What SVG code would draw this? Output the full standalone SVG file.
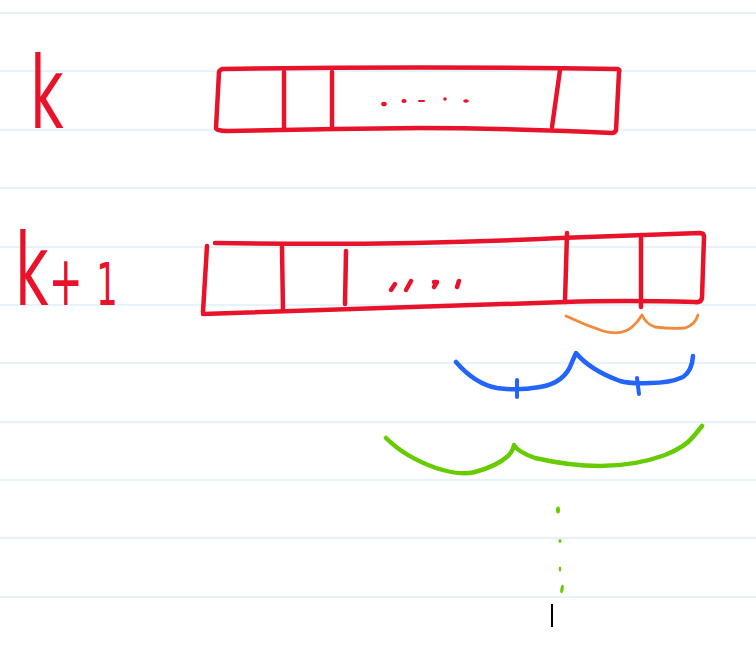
<svg xmlns="http://www.w3.org/2000/svg" width="756" height="645" viewBox="0 0 756 645">
<style>
.rule{stroke:#cde8f6;stroke-width:1.2}
.red{fill:none;stroke:#e8132b;stroke-width:4.5;stroke-linecap:round;stroke-linejoin:round}
.lbl{font-family:"DejaVu Sans",sans-serif;fill:#e8132b}
.br{fill:none;stroke-linecap:round;stroke-linejoin:round}
</style>
<rect width="756" height="645" fill="#ffffff"/>
<g id="rules">
<line class="rule" x1="0" y1="13" x2="756" y2="13"/>
<line class="rule" x1="0" y1="71" x2="756" y2="71"/>
<line class="rule" x1="0" y1="130" x2="756" y2="130"/>
<line class="rule" x1="0" y1="188" x2="756" y2="188"/>
<line class="rule" x1="0" y1="247" x2="756" y2="247"/>
<line class="rule" x1="0" y1="305" x2="756" y2="305"/>
<line class="rule" x1="0" y1="363" x2="756" y2="363"/>
<line class="rule" x1="0" y1="422" x2="756" y2="422"/>
<line class="rule" x1="0" y1="480" x2="756" y2="480"/>
<line class="rule" x1="0" y1="538" x2="756" y2="538"/>
<line class="rule" x1="0" y1="597" x2="756" y2="597"/>
</g>
<g id="label-k">
<text class="lbl" transform="translate(30,128) scale(0.58,1)" font-size="100">k</text>
</g>
<g id="label-k1">
<text class="lbl" transform="translate(15,305) scale(0.58,1)" font-size="100">k<tspan x="58" font-size="70">+</tspan><tspan x="140" font-size="58">1</tspan></text>
</g>
<g id="array-k">
<path class="red" d="M222,69 Q420,66 618,69 Q620,70 619,72 L616,130 Q615,133 612,133 Q500,128 420,128 Q320,129 228,131 Q216,131 216,128 L219,72 Q220,69 224,69"/>
<path class="red" d="M284,72 L284,129"/>
<path class="red" d="M332,72 L332,126"/>
<path class="red" d="M560,70 L552,127"/>
<g fill="#e8132b">
<ellipse cx="384" cy="104" rx="2.8" ry="2.3"/>
<ellipse cx="404" cy="101" rx="2.6" ry="2"/>
<rect x="418" y="100" width="7" height="2" rx="1"/>
<ellipse cx="445" cy="99" rx="1.8" ry="1.8"/>
<ellipse cx="466" cy="101" rx="2.8" ry="1.8"/>
</g>
</g>
<g id="array-k1">
<path class="red" d="M215,243 Q400,246 560,238 Q640,235 700,233 Q704,233 704,237 L702,298 Q701,303 695,302 Q620,300 565,302 Q400,308 203,314"/>
<path class="red" d="M207,246 L203,312"/>
<path class="red" d="M282,247 L283,311"/>
<path class="red" d="M346,251 L345,304"/>
<path class="red" d="M567,233 L565,302"/>
<path class="red" d="M641,235 L641,307"/>
<g class="red" stroke-width="3.5">
<path d="M395,284 L391,290"/>
<path d="M411,281 L406,290"/>
<path d="M434,282 L437,282 L434,287"/>
<path d="M459,281 L457,287"/>
</g>
</g>
<g id="connectors">
<path class="br" stroke="#f28a3c" stroke-width="2.8" d="M566,316 Q585,325 603,331 Q622,336 632,327 Q638,322 642,315 Q646,324 655,327 Q670,329 685,328 Q695,325 698,315"/>
<path class="br" stroke="#2364ff" stroke-width="4.5" d="M456,362 Q475,384 497,388 Q517,391 540,387 Q565,383 572,362 L576,353 Q590,370 620,381 Q630,384 650,383 Q670,383 683,377 Q692,371 693,356"/>
<path class="br" stroke="#2364ff" stroke-width="4" d="M517,380 L517,397"/>
<path class="br" stroke="#2364ff" stroke-width="4" d="M637,378 L639,394"/>
<path class="br" stroke="#66cc00" stroke-width="4.5" d="M386,438 Q405,457 436,468 Q460,476 475,472 Q497,466 508,456 Q513,451 514,445 Q518,452 535,458 Q570,466 600,466 Q635,466 665,455 Q685,447 693,437 L702,426"/>
<g fill="#66cc00">
<ellipse cx="558" cy="510" rx="2" ry="3.5"/>
<ellipse cx="560" cy="541" rx="1.5" ry="2"/>
<ellipse cx="560" cy="569" rx="1.3" ry="2.6"/>
<ellipse cx="562" cy="589" rx="1.6" ry="4.2" transform="rotate(10 562 589)"/>
</g>
<line x1="552" y1="604" x2="552" y2="627" stroke="#000000" stroke-width="2"/>
</g>
</svg>
